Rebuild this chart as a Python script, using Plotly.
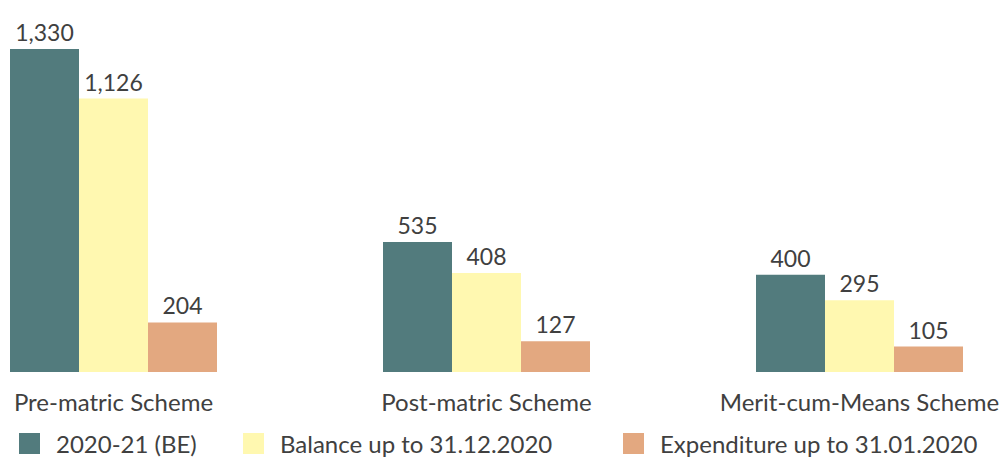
"""Scholarship schemes: budget vs balance vs expenditure."""

import plotly.graph_objects as go

SCHEMES = ["Pre-matric Scheme", "Post-matric Scheme", "Merit-cum-Means Scheme"]
BUDGET_2020_21 = [1330, 535, 400]
BALANCE_DEC_2020 = [1126, 408, 295]
EXPENDITURE_JAN_2020 = [204, 127, 105]

SERIES_NAMES = [
    "2020-21 (BE)",
    "Balance up to 31.12.2020",
    "Expenditure up to 31.01.2020",
]
SERIES_COLORS = ["#527b7d", "#fff8b0", "#e3a880"]
TEXT_COLOR = "#404040"
FONT = "Lato, 'Open Sans', sans-serif"

W, H = 1003, 459
PLOT_BOTTOM = 372  # pixel row of the bar baseline
PX_PER_UNIT = 323 / 1330
CAT_SPACING = 373
FIRST_CENTER = 113.5

series_values = [BUDGET_2020_21, BALANCE_DEC_2020, EXPENDITURE_JAN_2020]
legend_ids = ["legend", "legend2", "legend3"]
legend_px = [3, 227, 607]

fig = go.Figure()
for name, vals, color, leg in zip(SERIES_NAMES, series_values, SERIES_COLORS, legend_ids):
    fig.add_trace(
        go.Bar(
            x=SCHEMES,
            y=vals,
            name=name,
            marker=dict(color=color, line=dict(width=0)),
            text=[f"{v:,}" for v in vals],
            textposition="outside",
            textfont=dict(size=23, color=TEXT_COLOR, family=FONT),
            cliponaxis=False,
            showlegend=False,
        )
    )
    # big square legend markers (legend caps marker size, the outline adds to it)
    fig.add_trace(
        go.Scatter(
            x=[None],
            y=[None],
            mode="markers",
            name=name,
            marker=dict(symbol="square", size=16, color=color, line=dict(width=6, color=color)),
            legend=leg,
        )
    )

legend_common = dict(
    orientation="h",
    yref="container",
    xref="container",
    yanchor="middle",
    y=(H - 444) / H,
    xanchor="left",
    font=dict(size=24, color=TEXT_COLOR, family=FONT),
    bgcolor="rgba(0,0,0,0)",
    itemsizing="trace",
    itemwidth=43,
)

fig.update_layout(
    width=W,
    height=H,
    barmode="group",
    bargap=1 - 207 / CAT_SPACING,
    bargroupgap=0,
    plot_bgcolor="white",
    paper_bgcolor="white",
    margin=dict(l=0, r=0, t=0, b=H - PLOT_BOTTOM, autoexpand=False),
    font=dict(family=FONT, color=TEXT_COLOR),
    legend=dict(x=legend_px[0] / W, **legend_common),
    legend2=dict(x=legend_px[1] / W, **legend_common),
    legend3=dict(x=legend_px[2] / W, **legend_common),
    xaxis=dict(
        range=[-FIRST_CENTER / CAT_SPACING, (W - FIRST_CENTER) / CAT_SPACING],
        automargin=False,
        showgrid=False,
        showline=False,
        zeroline=False,
        ticks="outside",
        ticklen=9,
        tickcolor="rgba(0,0,0,0)",
        tickfont=dict(size=24, color=TEXT_COLOR, family=FONT),
    ),
    yaxis=dict(
        range=[0, PLOT_BOTTOM / PX_PER_UNIT],
        automargin=False,
        visible=False,
    ),
)

# drop the default page margin so the figure sits at the window's corner
fig.write_html(
    "out.html",
    config={"displayModeBar": False},
    post_script="document.body.style.margin='0';document.body.style.overflow='hidden';",
)
